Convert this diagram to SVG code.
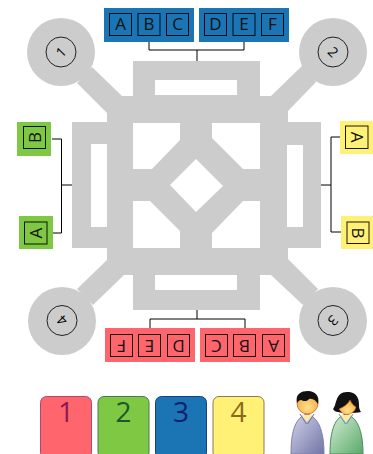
<svg xmlns="http://www.w3.org/2000/svg" width="373" height="454" viewBox="0 0 373 454">
<style>
.g{fill:#ccc}
.blue{fill:#1b75b4}.green{fill:#7fc843}.red{fill:#ff656d}.yellow{fill:#fff176}
.sq{fill:none;stroke:#000;stroke-opacity:.9;stroke-width:1}
.t{font-family:"Open Sans",sans-serif;font-size:17px;text-anchor:middle;fill:#111}
.d{font-family:"Open Sans",sans-serif;font-size:14px;text-anchor:middle;fill:#000}
.n{font-family:"Open Sans",sans-serif;font-size:28px;text-anchor:middle}
.c{fill:none;stroke:#000;stroke-width:1}
.in{fill:none;stroke:#222;stroke-width:1}
</style>
<defs>
<linearGradient id="man" x1="0" y1="0" x2="1" y2="1"><stop offset="0" stop-color="#d2d4ea"/><stop offset="1" stop-color="#7274a6"/></linearGradient>
<linearGradient id="wom" x1="0" y1="0" x2="1" y2="1"><stop offset="0" stop-color="#d6efd6"/><stop offset="1" stop-color="#5aa86a"/></linearGradient>
<radialGradient id="skin" cx=".5" cy=".7" r=".7"><stop offset="0" stop-color="#ffe08a"/><stop offset="1" stop-color="#f2a53a"/></radialGradient>
</defs>
<g id="building">
<circle class="g" cx="61" cy="52" r="34"/><circle class="g" cx="333" cy="52" r="34"/><circle class="g" cx="333" cy="321" r="34"/><circle class="g" cx="62" cy="321" r="34"/>
<path class="g" fill-rule="evenodd" d="M133 61H260V96H271L303 65L316 82L288 111V122H321V248H288V259L318 289L303 305L271 275H260V310H133V275H124L93 305L77 289L107 260V248H72V122H107V113L77 83L92 67L122 96H133Z
M155 80H237V95H155Z M155 275H237V290H155Z M91 144H107V227H91Z M287 145H303V227H287Z
M133 123H180V140L152 169H133Z M212 123H260V169H243L212 138Z M133 201H150L180 231V248H133Z M243 201H260V248H212V233Z
M196 159L223 186L196 212L170 185Z"/>
</g>
<g id="connectors">
<path class="c" d="M149 42V50H244V42M197 50V61"/>
<path class="c" d="M150 328V319H245V328M197 310V319"/>
<path class="c" d="M52 139H61.500V233H52M61 185H72"/>
<path class="c" d="M340 137H331V232H341M321 185H331"/>
</g>
<g id="corner-1"><circle class="in" cx="61" cy="52" r="15"/><text class="d" transform="rotate(-45 61 52)" x="61" y="57">1</text></g>
<g id="corner-2"><circle class="in" cx="333" cy="52" r="15"/><text class="d" transform="rotate(45 333 52)" x="333" y="57">2</text></g>
<g id="corner-3"><circle class="in" cx="333" cy="320.500" r="15"/><text class="d" transform="rotate(135 333 320.500)" x="333" y="325.500">3</text></g>
<g id="corner-4"><circle class="in" cx="62" cy="320.500" r="15"/><text class="d" transform="rotate(-135 62 320.500)" x="62" y="325.500">4</text></g>
<g id="top-abc"><rect class="blue" x="104" y="8" width="90" height="34"/>
<rect class="sq" x="109.500" y="13.500" width="22" height="22"/><rect class="sq" x="138" y="13.500" width="22" height="22"/><rect class="sq" x="166.500" y="13.500" width="22" height="22"/>
<text class="t" x="120.500" y="30">A</text><text class="t" x="149" y="30">B</text><text class="t" x="177.500" y="30">C</text></g>
<g id="top-def"><rect class="blue" x="199" y="8" width="90" height="34"/>
<rect class="sq" x="204.500" y="13.500" width="22" height="22"/><rect class="sq" x="233" y="13.500" width="22" height="22"/><rect class="sq" x="261.500" y="13.500" width="22" height="22"/>
<text class="t" x="215.500" y="30">D</text><text class="t" x="244" y="30">E</text><text class="t" x="272.500" y="30">F</text></g>
<g id="bottom-fed"><rect class="red" x="105" y="328" width="90" height="34"/>
<rect class="sq" x="110.500" y="334.500" width="22" height="22"/><rect class="sq" x="138.500" y="334.500" width="22" height="22"/><rect class="sq" x="167.500" y="334.500" width="22" height="22"/>
<text class="t" transform="rotate(180 121.500 345.500)" x="121.500" y="351.500">F</text><text class="t" transform="rotate(180 149.500 345.500)" x="149.500" y="351.500">E</text><text class="t" transform="rotate(180 178.500 345.500)" x="178.500" y="351.500">D</text></g>
<g id="bottom-cba"><rect class="red" x="200" y="328" width="90" height="34"/>
<rect class="sq" x="205.500" y="334.500" width="22" height="22"/><rect class="sq" x="233.500" y="334.500" width="22" height="22"/><rect class="sq" x="262.500" y="334.500" width="22" height="22"/>
<text class="t" transform="rotate(180 216.500 345.500)" x="216.500" y="351.500">C</text><text class="t" transform="rotate(180 244.500 345.500)" x="244.500" y="351.500">B</text><text class="t" transform="rotate(180 273.500 345.500)" x="273.500" y="351.500">A</text></g>
<g id="left-b"><rect class="green" x="17" y="122" width="34" height="34"/><rect class="sq" x="23.500" y="126.500" width="22" height="22"/>
<text class="t" transform="rotate(-90 34.500 137.500)" x="34.500" y="143.500">B</text></g>
<g id="left-a"><rect class="green" x="19" y="216" width="34" height="33"/><rect class="sq" x="24.500" y="222" width="22.500" height="22"/>
<text class="t" transform="rotate(-90 36 233)" x="36" y="239">A</text></g>
<g id="right-a"><rect class="yellow" x="340" y="121" width="33" height="33"/><rect class="sq" x="345.500" y="126" width="22.500" height="22.500"/>
<text class="t" transform="rotate(90 357 137)" x="357" y="143">A</text></g>
<g id="right-b"><rect class="yellow" x="341" y="216" width="32" height="33"/><rect class="sq" x="347" y="222" width="22" height="21.500"/>
<text class="t" transform="rotate(90 358 233)" x="358" y="239">B</text></g>
<g id="legend-1"><rect class="red" stroke="#a8497a" x="40.500" y="396.500" width="51" height="62" rx="6"/><text class="n" fill="#8a1a55" x="66" y="422">1</text></g>
<g id="legend-2"><rect class="green" stroke="#4a7a50" x="98" y="396.500" width="51" height="62" rx="6"/><text class="n" fill="#1a5a2a" x="123.500" y="422">2</text></g>
<g id="legend-3"><rect class="blue" stroke="#1a3f80" x="155.500" y="396.500" width="51" height="62" rx="6"/><text class="n" fill="#10206e" x="181" y="422">3</text></g>
<g id="legend-4"><rect class="yellow" stroke="#8a7a50" x="213" y="396.500" width="51" height="62" rx="6"/><text class="n" fill="#8a6a1a" x="238.500" y="422">4</text></g>
<g id="person-man">
<path fill="url(#man)" stroke="#7a80b0" d="M291 454C291 430 296 417 307 414C318 417 324 430 324 454Z"/>
<path fill="#ffe9a8" d="M301 415L307 422L313 415Z"/>
<path fill="none" stroke="#6a70a0" d="M300 414L306.500 424M314 414L307.500 424"/>
<ellipse cx="307.500" cy="403" rx="10.500" ry="11" fill="url(#skin)" stroke="#d0601a" stroke-width=".8"/>
<path fill="#111" d="M297 403C295 394 301 391 308 391C315 391 320 396 318 404C316 401 313 398 309 399C307 402 303 401 301 400C299 400 298 402 297 403Z"/>
</g>
<g id="person-woman">
<path fill="url(#wom)" stroke="#4a8a5a" d="M330 454C330 430 335 417 346 414C357 417 363 430 363 454Z"/>
<path fill="#ffe9a8" d="M340 415L346 422L352 415Z"/>
<path fill="none" stroke="#6a8ab0" d="M339 414L345.500 424M353 414L346.500 424"/>
<path fill="#111" d="M333 409C337 405 335 392 347 392C358 392 359 400 359 405C359 409 360 410 361 412C356 413 345 414 338 412C336 412 334 411 333 409Z"/>
<path fill="url(#skin)" stroke="#d0601a" stroke-width=".6" d="M339 409C344 407 348 404 350 400C352 404 354 406 356 407C355 412 350 414.500 347 414.500C344 414.500 341 412 339 409Z"/>
</g>
</svg>
